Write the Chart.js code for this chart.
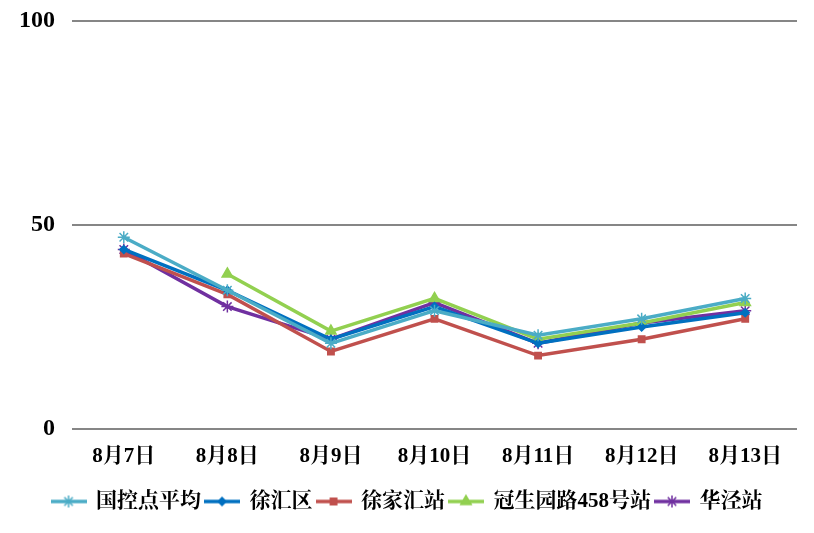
<!DOCTYPE html>
<html>
<head>
<meta charset="utf-8">
<script src="https://cdn.jsdelivr.net/npm/chart.js@4.4.1/dist/chart.umd.min.js"></script>
<style>
    html, body { margin: 0; padding: 0; background: #ffffff; }
    #wrap { width: 814px; height: 533px; }
</style>
</head>
<body>
<div id="wrap"><canvas id="myChart"></canvas></div>
<script>
var labels = ['8月7日', '8月8日', '8月9日', '8月10日', '8月11日', '8月12日', '8月13日'];
var guokong = [47, 34, 21, 29, 23, 27, 32];
var xuhuiqu = [44, 34, 22, 30, 21, 25, 28.5];
var xujiahui = [43, 33, 19, 27, 18, 22, 27];
var guanshengyuan = [null, 38, 24, 32, 22, 26, 31];
var huajing = [44, 30, 22, 31, 21, 26, 29];
var yTicks = [0, 50, 100];

var fontFamily = '"Liberation Serif", "Noto Serif CJK SC", "Noto Sans CJK SC", serif';

// legend marker: short line with the point in the middle
function legendIcon(color, style, radius) {
    var c = document.createElement('canvas');
    c.width = 36;
    c.height = 16;
    var g = c.getContext('2d');
    g.strokeStyle = color;
    g.fillStyle = color;
    g.lineWidth = 3.5;
    g.beginPath();
    g.moveTo(0, 8);
    g.lineTo(36, 8);
    g.stroke();
    g.lineWidth = 1.5;
    Chart.helpers.drawPoint(g, {
        pointStyle: style, radius: radius, borderWidth: 1.5, rotation: 0
    }, 18, 8);
    return c;
}

function series(name, data, color, style, radius) {
    return {
        label: name,
        data: data,
        borderColor: color,
        backgroundColor: color,
        borderWidth: 3.5,
        pointStyle: style,
        pointRadius: radius,
        pointBorderWidth: 1.5,
        pointHoverRadius: radius,
        spanGaps: false,
        tension: 0,
        legendIcon: legendIcon(color, style, radius)
    };
}

var ctx = document.getElementById('myChart');
var myChart = new Chart(ctx, {
    type: 'line',
    data: {
        labels: labels,
        datasets: [
            series('国控点平均', guokong, '#4BACC6', 'star', 6),
            series('徐汇区', xuhuiqu, '#0070C0', 'rectRot', 4),
            series('徐家汇站', xujiahui, '#C0504D', 'rect', 4.5),
            series('冠生园路458号站', guanshengyuan, '#92D050', 'triangle', 6),
            series('华泾站', huajing, '#7030A0', 'star', 6)
        ]
    },
    options: {
        responsive: true,
        maintainAspectRatio: false,
        animation: false,
        layout: {
            padding: { left: 17, right: 17, top: 21, bottom: 11 }
        },
        plugins: {
            tooltip: { enabled: false },
            legend: {
                position: 'bottom',
                labels: {
                    usePointStyle: true,
                    pointStyleWidth: 34,
                    padding: 4,
                    color: '#000000',
                    font: { family: fontFamily, size: 21, weight: 'bold' },
                    generateLabels: function (chart) {
                        return chart.data.datasets.map(function (ds, i) {
                            return {
                                text: ds.label,
                                pointStyle: ds.legendIcon,
                                fillStyle: ds.borderColor,
                                strokeStyle: ds.borderColor,
                                lineWidth: 0,
                                fontColor: '#000000',
                                datasetIndex: i
                            };
                        });
                    }
                }
            }
        },
        scales: {
            x: {
                offset: true,
                grid: { display: false },
                border: { display: false },
                ticks: {
                    color: '#000000',
                    maxRotation: 0,
                    autoSkip: false,
                    padding: 7,
                    font: { family: fontFamily, size: 21, weight: 'bold' }
                },
                afterFit: function (scale) {
                    scale.height = 58;
                }
            },
            y: {
                min: 0,
                max: 100,
                afterBuildTicks: function (scale) {
                    scale.ticks = yTicks.map(function (v) { return { value: v }; });
                },
                grid: {
                    color: '#868686',
                    lineWidth: 2,
                    drawTicks: false
                },
                border: { display: false },
                ticks: {
                    color: '#000000',
                    padding: 17,
                    font: { family: fontFamily, size: 24, weight: 'bold' }
                },
                afterFit: function (scale) {
                    scale.width = 55;
                    scale.paddingTop = 0;
                    scale.paddingBottom = 0;
                }
            }
        }
    }
});
</script>
</body>
</html>
